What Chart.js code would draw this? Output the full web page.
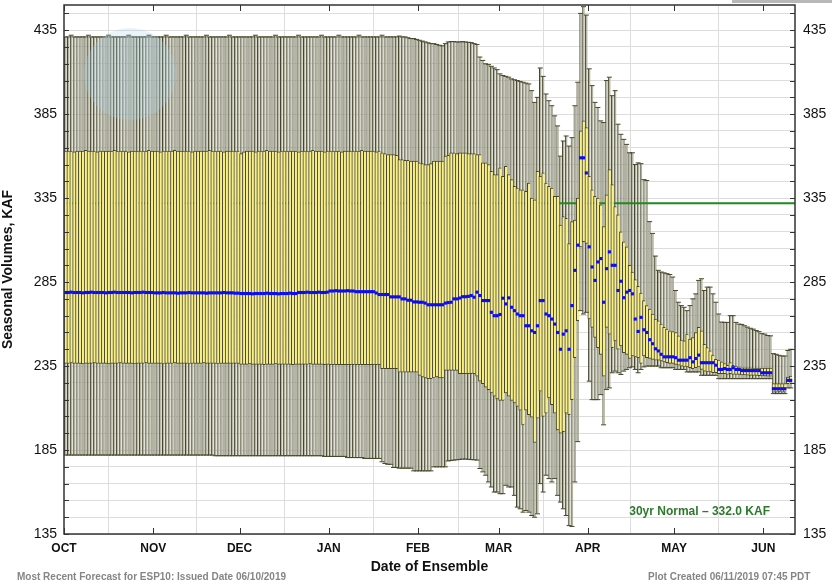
<!DOCTYPE html>
<html>
<head>
<meta charset="utf-8">
<script src="https://cdn.jsdelivr.net/npm/chart.js@4.4.1/dist/chart.umd.min.js"></script>
<style>
  html, body { margin: 0; padding: 0; background: #fff; }
</style>
</head>
<body>
<canvas id="chart" width="832" height="580"></canvas>
<script>
// x axis: days since Oct 1, month starts and their labels
const monthStarts = [0, 31, 61, 92, 123, 151, 182, 212, 243];
const monthNames = ['OCT', 'NOV', 'DEC', 'JAN', 'FEB', 'MAR', 'APR', 'MAY', 'JUN'];
const yTickValues = [135,145,155,165,175,185,195,205,215,225,235,245,255,265,275,285,
                     295,305,315,325,335,345,355,365,375,385,395,405,415,425,435,445];
const yLabelled = [135, 185, 235, 285, 335, 385, 435];

const normalValue = 332.0;
const normalLabel = '30yr Normal \u2013 332.0 KAF';
const footerLeft = 'Most Recent Forecast for ESP10: Issued Date 06/10/2019';
const footerRight = 'Plot Created 06/11/2019 07:45 PDT';

// one value per ensemble day, Oct 1 .. Jun 10 (KAF)
const whiskHi = [
  // Oct
  431,431,432,431,431,431,431,431,432,431, 431,431,431,431,431,432,431,431,431,431,
  431,431,432,431,431,431,431,431,431,432, 431,
  // Nov
  431,431,431,431,432,431,431,431,431,431, 431,432,431,431,431,431,431,431,432,431,
  431,431,431,431,431,431,432,431,431,431,
  // Dec
  431,431,431,431,431,432,431,431,431,431, 431,431,432,431,431,431,431,431,431,431,
  432,431,431,431,431,431,431,431,432,431, 431,
  // Jan
  431,431,431,432,431,431,431,431,431,431, 432,431,431,431,431,431,431,431,432,431,
  431,431,431,431,431.5,431,431,430.5,430,430, 429.5,
  // Feb
  429,428.5,428,427.5,427,427,426.5,426,425.7,427, 428,428.2,428.2,428,428,428.2,428,427.8,427.6,427,
  426.5,419,417,415,414.5,413.5,412.5,411.5,
  // Mar
  409,408,407.5,407,406,405.5,405,404.5,404,403.5, 403,399,392,395,412.5,407.5,397,393,390,384,
  378,360,369,372,366,371,390,404,445,449, 444,
  // Apr
  412,402,392,389,381,380,405,407,396,399, 379,373,370,367,362,362,355,356,355.5,346,
  345.5,321,314,300.5,292,291,290.5,290,289.5,288,
  // May
  280,273,271,270,268,271,275,278,286,287, 280,282,282,278,273,266,261.2,261,261,265,
  265,261,260,259.8,259,258.2,257.5,257,256.2,255.5, 254.3,
  // Jun
  254,253.2,253,242.4,242,241.4,241,241,244.3,245
];

const boxHi = [
  // Oct
  363,363,363,362.5,363,363,363,363.5,363,363, 363,362.5,363,363,363,363,363,363.5,363,363,
  363,363,362.5,363,363,363,363,363,363,363.5, 363,
  // Nov
  363,363,362.5,363,363,363,363,363.5,363,363, 363,363,363,362.5,363,363,363,363,363,363.5,
  363,363,363,363,362.5,363,363,363,363,363,
  // Dec
  361.5,362.5,363,363,363,362.5,363,363,363,363.5, 363,363,363,362.5,363,363,363,363,363,363,
  362.5,363,363,363,363,363.5,363,363,363,362.5, 363,
  // Jan
  363,363,363,363,362.5,363,363,363,363,363, 363,363.5,363,363,363,363,362.5,363,362,361.5,
  361,361,361,360.5,358,358,357.5,357.5,357,357, 357,
  // Feb
  356,355.5,355,355,355.5,357,357,357,357,360, 360.5,362,362,361.5,362,362,362,361.5,361.5,361.5,
  361,361,356,356,355,351,349,349,
  // Mar
  353,348,354,349,346,342,341,340,340,339, 344,335,334,351,348,350,344,342,341,336,
  336,319,324,323,308,321,322,335,375,381, 377,
  // Apr
  348,340,336,335,331,318,337,352,343,330, 325,315,309,306,295,291,286.5,282.5,278.5,274,
  271,269,266,263,262,260,258,257,256,255.5,
  // May
  255,253,250.5,250,254,251,252,255,258,256, 248,246,244,241.5,239,238.5,237.5,236.5,235.5,237,
  235.5,235,234.5,234,234,234,234,233.8,233.8,233.8, 233.8,
  // Jun
  233.8,233.8,233.8,224.5,224.5,224.5,224.5,224.5,228.5,229
];

const median = [
  // Oct
  278.8,278.8,279,278.8,278.8,278.8,278.6,278.8,278.8,279, 278.8,278.8,278.8,278.8,278.6,278.8,278.8,279,278.8,278.8,
  278.8,278.8,278.8,278.6,278.8,278.8,278.8,279,278.8,278.8, 278.8,
  // Nov
  278.6,278.6,278.6,278.8,278.6,278.6,278.6,278.6,278.4,278.6, 278.6,278.6,278.8,278.6,278.6,278.6,278.6,278.6,278.4,278.6,
  278.6,278.6,278.6,278.6,278.8,278.6,278.6,278.6,278.4,278.4,
  // Dec
  278.2,278.2,278.2,278.2,278,278.2,278.2,278.2,278.2,278.4, 278.2,278.2,278.2,278,278.2,278.2,278.2,278.4,278.2,278.2,
  278.8,278.8,278.8,279,278.8,278.8,278.8,279,278.8,278.8, 279,
  // Jan
  279.7,279.7,279.9,279.7,279.7,279.7,279.9,279.7,279.7,279.3, 279.3,279.3,279.3,279.3,279.3,279.3,278.5,277.6,277.6,277.6,
  277.6,276.2,276.2,276.2,276.2,275,275,274.2,274.2,273.2, 273.2,
  // Feb
  273,273,272.5,271.5,271.5,271.5,271.5,271.5,271.5,272.5, 272.8,273,275,275,275.5,276.3,276.3,276.5,277,276,
  279,277,274,274,274,267,265,265,
  // Mar
  265.7,275.4,272,275.6,270,268,266,265,265,259, 259,256,255,259,274,274,266,265,263,260,
  255,245,254,256,245,271,292,307,359,359, 350,
  // Apr
  306,294,286,297,299,273,293,303,295,295, 280,285.5,275.7,279,280,278,263,255.6,264,256.6,
  255,250.7,248.3,245.3,244,242,240.5,240.5,240.5,240.5,
  // May
  240,238.5,238.5,238.5,238.5,240,237.5,239.5,241.5,237, 237,237,237,237,235.5,233,233,233.5,233,233,
  234,233,233,232.3,232.3,232.3,232.3,232.3,232.3,232.3, 231,
  // Jun
  231,231,231,221.5,221.5,221.5,221.5,221.5,226.5,226.5
];

const boxLo = [
  // Oct
  236.5,236.5,236.8,236.5,236.5,236.5,236.3,236.5,236.5,236.5, 236.8,236.5,236.5,236.5,236.5,236.3,236.5,236.5,236.5,236.8,
  236.5,236.5,236.5,236.5,236.3,236.5,236.5,236.5,236.8,236.5, 236.5,
  // Nov
  236.5,236.5,236.5,236.3,236.5,236.5,236.5,236.8,236.5,236.5, 236.5,236.5,236.3,236.5,236.5,236.5,236.5,236.8,236.5,236.5,
  236.5,236.5,236.3,236.5,236.5,236.5,236.5,236.5,236.5,236.5,
  // Dec
  236,236,236,236.3,236,236,236,236,235.8,236, 236,236,236.3,236,236,236,236,236,235.8,236,
  236,236,236,236,236.3,236,236,236,236,235.8, 236,
  // Jan
  235.8,235.8,235.8,235.8,235.8,235.8,235.8,235.8,235.8,235.8, 235.8,235.8,235.8,235.8,235.8,235.8,235.8,235.8,233.5,233.5,
  233.5,233.5,233.5,233.5,231.4,231.4,231.4,231.4,231.4,231.4, 231.4,
  // Feb
  229.5,228.5,228,227.5,227.5,228,228.5,228,228,232.4, 232.4,232.4,232.4,232.4,230.5,230.5,230.5,230.5,230.5,230.5,
  229,226,224.5,222.5,221,219,217,215.5,
  // Mar
  214.6,214.6,219,217,214.6,213,211,208.7,200,208.7, 206,204.5,189.5,204,220,205,207,216,212,207,
  197,195,196,207,206,215,240,262,306,309, 308,
  // Apr
  263,258,252,246,242,229,258,254,246,250, 245,247,243,242,239.5,241,240.5,240,236.5,241,
  240,239.5,239,238.5,238.5,238,237.5,237,236.5,236.5,
  // May
  236,235.5,235,234.5,234.5,234,233.5,234,234.5,233, 232,231.5,231.5,231,231,230.5,230.5,230.5,230,230.5,
  230,230,230,229.8,229.7,229.6,229.5,229.5,229.4,229.3, 229.2,
  // Jun
  229.2,229,229,219.5,219.5,219.6,219.4,219.5,224.5,225.5
];

const whiskLo = [
  // Oct
  182,182,182,182,182,182,182,182,182,182, 182,182,182,182,182,182,182,182,182,182,
  182,182,182,182,182,182,182,182,182,182, 182,
  // Nov
  182,182,182,182,182,182,182,182,182,182, 182,182,182,182,182,182,182,182,182,182,
  182,181.6,181.6,181.6,181.6,181.6,181.6,181.6,181.6,181.6,
  // Dec
  181.6,181.6,181.6,181.6,181.6,181.6,181.6,181.6,181.6,181.6, 181.6,181.6,181.6,181.6,181.6,181.6,181.6,181.6,181.6,181.6,
  181.6,181.6,181.6,181.6,181.6,181.6,181.6,181.6,181.6,181.2, 181.2,
  // Jan
  181.2,181.2,181.2,181.2,181.2,181.2,180.5,180.5,180.5,180.5, 180.5,180.5,180,180,180,180,180,180,178,177,
  176.5,176.5,174.6,174.6,174.2,174.2,174.2,174.2,174.2,172.6, 172.6,
  // Feb
  172.6,172.6,172.6,172.6,172.6,175,175,175,175,175, 178.5,178.8,179,179.2,179.4,179.6,179.6,179.5,179.3,179.2,
  179,174,172,170,166,163,160,160,
  // Mar
  159,159,164,163,163,158,151,150,148,149, 148,146,145,147,165,160,170,168,166,168,
  158,154,150,146,140,139.5,166,190,268,266, 267,
  // Apr
  226,215,215,215,218,200,221,222,231,232, 231,230,232,233,234,234.5,233,231,233,234.5,
  235,235,235,235,235,234,234,234,234,234,
  // May
  233,233,233,233,231.5,231.5,231.5,231.5,231.5,229.5, 229.5,229.5,229.5,229.5,229.5,227.5,227.5,227.5,227.5,227.5,
  227.5,227.5,227.5,227.5,227.5,227.5,227.5,227.5,227.5,227.5, 227.5,
  // Jun
  227.5,227.5,227.5,218.6,218.6,218.6,218.6,218.6,222,222
];

Chart.defaults.font.family = '"Liberation Sans", Arial, Helvetica, sans-serif';
Chart.defaults.color = '#111';

const DARK = '#45452a';
const pts = arr => arr.map((v, i) => ({ x: i + 0.5, y: v }));
const span = (lo, hi) => lo.map((v, i) => ({ x: i + 0.5, y: [v, hi[i]] }));
const lastDay = monthStarts[monthStarts.length - 1] + 11;

const yTicks = scale => { scale.ticks = yTickValues.map(v => ({ value: v })); };
const yLabel = v => (yLabelled.includes(v) ? String(v) : '');
// fixed axis width, and no extra room for half-labels above / below the plot
const yFit = w => scale => {
  scale.width = w;
  scale.paddingTop = 0;
  scale.paddingBottom = 0;
};

const decor = {
  id: 'decor',
  afterDatasetsDraw(chart) {
    const { ctx, chartArea: a, scales: { x, y } } = chart;
    ctx.save();
    // faint logo watermark
    ctx.fillStyle = 'rgba(165, 210, 235, 0.25)';
    ctx.beginPath();
    ctx.arc(130, 74, 46, 0, Math.PI * 2);
    ctx.fill();
    // inward tick marks
    ctx.strokeStyle = '#333';
    ctx.lineWidth = 1;
    ctx.beginPath();
    yTickValues.forEach(v => {
      const py = Math.round(y.getPixelForValue(v)) + 0.5;
      ctx.moveTo(a.left, py); ctx.lineTo(a.left + 5, py);
      ctx.moveTo(a.right - 5, py); ctx.lineTo(a.right, py);
    });
    monthStarts.forEach(v => {
      const px = Math.round(x.getPixelForValue(v)) + 0.5;
      ctx.moveTo(px, a.top); ctx.lineTo(px, a.top + 6);
      ctx.moveTo(px, a.bottom - 6); ctx.lineTo(px, a.bottom);
    });
    ctx.stroke();
    // frame
    ctx.lineWidth = 1.5;
    ctx.strokeRect(a.left, a.top, a.right - a.left, a.bottom - a.top);
    // normal label
    ctx.font = 'bold 12px "Liberation Sans", Arial, sans-serif';
    ctx.fillStyle = '#2c7a2c';
    ctx.textAlign = 'right';
    ctx.textBaseline = 'middle';
    ctx.fillText(normalLabel, x.getPixelForValue(245.3), y.getPixelForValue(148));
    // footers
    ctx.font = 'bold 10px "Liberation Sans", Arial, sans-serif';
    ctx.fillStyle = '#858585';
    ctx.textAlign = 'left';
    ctx.textBaseline = 'alphabetic';
    ctx.fillText(footerLeft, 17, 580);
    ctx.fillText(footerRight, 648, 580);
    // grey strip in the top right corner
    ctx.fillStyle = '#b8b8b8';
    ctx.fillRect(732, 0, 100, 3);
    ctx.restore();
  }
};

new Chart(document.getElementById('chart'), {
  type: 'bar',
  data: {
    datasets: [
      {
        type: 'line',
        data: pts(whiskHi),
        showLine: false,
        pointStyle: 'line',
        pointRadius: 2.5,
        pointBorderWidth: 1,
        pointBorderColor: DARK,
        order: 1
      },
      {
        type: 'line',
        data: pts(whiskLo),
        showLine: false,
        pointStyle: 'line',
        pointRadius: 2.5,
        pointBorderWidth: 1,
        pointBorderColor: DARK,
        order: 1
      },
      {
        type: 'line',
        data: pts(median),
        showLine: false,
        pointStyle: 'rect',
        pointRadius: 2.2,
        pointBorderWidth: 0,
        pointBackgroundColor: '#0a0aff',
        pointBorderColor: '#0a0aff',
        order: 2
      },
      {
        data: span(boxLo, boxHi),
        grouped: false,
        backgroundColor: '#f8ef8a',
        borderColor: DARK,
        borderWidth: { left: 1, top: 1, bottom: 1, right: 0 },
        borderSkipped: false,
        categoryPercentage: 1,
        barPercentage: 1,
        order: 3
      },
      {
        type: 'line',
        data: [{ x: 0, y: normalValue }, { x: lastDay, y: normalValue }],
        borderColor: '#1f8a1f',
        borderWidth: 2,
        pointRadius: 0,
        order: 4
      },
      {
        data: span(whiskLo, whiskHi),
        grouped: false,
        backgroundColor: '#b2b2a0',
        borderColor: DARK,
        borderWidth: { left: 1, top: 0, bottom: 0, right: 0 },
        borderSkipped: false,
        categoryPercentage: 1,
        barPercentage: 0.9,
        order: 5
      }
    ]
  },
  options: {
    responsive: false,
    animation: false,
    layout: { padding: { top: 4, left: 0, right: 0, bottom: 0 } },
    plugins: { legend: { display: false }, tooltip: { enabled: false } },
    scales: {
      x: {
        type: 'linear',
        min: 0,
        max: lastDay,
        offset: false,
        afterBuildTicks: scale => { scale.ticks = monthStarts.map(v => ({ value: v })); },
        afterFit: scale => { scale.height = 46; scale.paddingLeft = 0; scale.paddingRight = 0; },
        grid: { color: '#dddddd', drawTicks: false },
        border: { display: false },
        ticks: {
          autoSkip: false,
          maxRotation: 0,
          padding: 7,
          font: { size: 12, weight: 'bold' },
          color: '#111',
          callback: v => monthNames[monthStarts.indexOf(v)] || ''
        },
        title: {
          display: true,
          text: 'Date of Ensemble',
          font: { size: 14, weight: 'bold' },
          color: '#111',
          padding: { top: 0, bottom: 4 }
        }
      },
      y: {
        type: 'linear',
        position: 'left',
        min: 135,
        max: 450,
        afterBuildTicks: yTicks,
        afterFit: yFit(64),
        grid: { color: '#dddddd', drawTicks: false },
        border: { display: false },
        ticks: { autoSkip: false, padding: 7, font: { size: 14 }, color: '#111', callback: yLabel },
        title: {
          display: true,
          text: 'Seasonal Volumes, KAF',
          font: { size: 14, weight: 'bold' },
          color: '#111',
          padding: 0
        }
      },
      y2: {
        type: 'linear',
        position: 'right',
        min: 135,
        max: 450,
        afterBuildTicks: yTicks,
        afterFit: yFit(37),
        grid: { display: false, drawTicks: false },
        border: { display: false },
        ticks: { autoSkip: false, padding: 8, font: { size: 14 }, color: '#111', callback: yLabel }
      }
    }
  },
  plugins: [decor]
});
</script>
</body>
</html>
